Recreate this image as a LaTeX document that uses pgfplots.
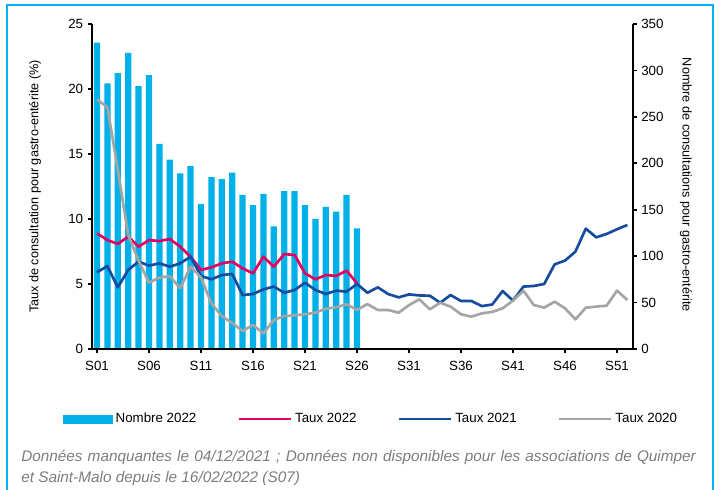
\documentclass[border=0pt]{standalone}
\usepackage{pgfplots}
\pgfplotsset{compat=1.18}
\usepackage{fontspec}
\setmainfont{Liberation Sans}

\definecolor{barc}{RGB}{0,176,232}
\definecolor{pinkc}{RGB}{228,0,95}
\definecolor{bluec}{RGB}{22,76,160}
\definecolor{greyc}{RGB}{165,165,165}
\definecolor{framec}{RGB}{0,176,240}
\definecolor{notec}{RGB}{125,125,125}

\begin{document}
\begin{tikzpicture}[x=0.75pt,y=0.75pt]
\useasboundingbox (0,0) rectangle (720,489);
\draw[framec, line width=1.5pt] (7,-2) -- (7,484) -- (713,484) -- (713,-2);

% nombre de consultations (axe de droite)
\begin{axis}[
    at={(68.85pt,105pt)}, anchor=south west,
    scale only axis, width=405.6pt, height=243.75pt,
    xmin=0.5, xmax=52.5, ymin=0, ymax=350,
    hide x axis,
    axis y line*=right,
    axis line style={-, line width=1.5pt},
    ytick={0,50,...,350},
    tick align=outside, major tick length=3pt,
    every tick/.style={black, line width=1.2pt},
    tick label style={font=\fontsize{10}{11}\selectfont},
    /pgf/number format/assume math mode=true,
]
\addplot[ybar, bar width=4.7pt, fill=barc, draw=none] coordinates {
(1,330) (2,286) (3,297) (4,319) (5,283) (6,295) (7,221) (8,204) (9,189) (10,197)
(11,156) (12,185) (13,183) (14,190) (15,166) (16,155) (17,167) (18,132) (19,170) (20,170)
(21,155) (22,140) (23,153) (24,148) (25,166) (26,130)};
\end{axis}

% taux (axe de gauche)
\begin{axis}[
    at={(68.85pt,105pt)}, anchor=south west,
    scale only axis, width=405.6pt, height=243.75pt,
    xmin=0.5, xmax=52.5, ymin=0, ymax=25,
    axis x line*=bottom, axis y line*=left,
    axis line style={-, line width=1.5pt},
    xtick={1,6,...,51},
    xticklabels={S01,S06,S11,S16,S21,S26,S31,S36,S41,S46,S51},
    ytick={0,5,...,25},
    tick align=outside, major tick length=3pt,
    every tick/.style={black, line width=1.2pt},
    tick label style={font=\fontsize{10}{11}\selectfont},
    xticklabel style={yshift=-2.5pt},
    /pgf/number format/assume math mode=true,
    legend columns=4,
    legend style={at={(0.517,-0.215)}, anchor=center, draw=none, fill=none,
        font=\fontsize{10}{11}\selectfont,
        /tikz/every even column/.append style={column sep=29pt}},
    legend image code/.code={\draw[#1] (0pt,0pt) -- (39pt,0pt);},
]
\addlegendimage{legend image code/.code={\fill[barc] (0pt,-3pt) rectangle (37pt,3pt);}}
\addlegendentry{Nombre 2022}
\addplot[pinkc, line width=2pt, line join=round] coordinates {
(1,8.9) (2,8.38) (3,8.08) (4,8.64) (5,7.87) (6,8.38) (7,8.3) (8,8.46) (9,7.87) (10,7.1)
(11,6.08) (12,6.28) (13,6.59) (14,6.72) (15,6.2) (16,5.82) (17,7.1) (18,6.33) (19,7.3) (20,7.23)
(21,5.82) (22,5.36) (23,5.69) (24,5.62) (25,6.03) (26,5.05)};
\addlegendentry{Taux 2022}
\addplot[bluec, line width=2pt, line join=round] coordinates {
(1,5.9) (2,6.38) (3,4.74) (4,6.08) (5,6.72) (6,6.41) (7,6.59) (8,6.33) (9,6.59) (10,7.1)
(11,5.62) (12,5.36) (13,5.69) (14,5.77) (15,4.15) (16,4.23) (17,4.59) (18,4.8) (19,4.33) (20,4.54)
(21,5.1) (22,4.54) (23,4.23) (24,4.49) (25,4.41) (26,5.0) (27,4.33) (28,4.74) (29,4.23) (30,3.97)
(31,4.2) (32,4.12) (33,4.1) (34,3.56) (35,4.15) (36,3.69) (37,3.69) (38,3.3) (39,3.42) (40,4.46)
(41,3.72) (42,4.8) (43,4.85) (44,5.0) (45,6.51) (46,6.8) (47,7.49) (48,9.26) (49,8.59) (50,8.85)
(51,9.21) (52,9.54)};
\addlegendentry{Taux 2021}
\addplot[greyc, line width=2pt, line join=round] coordinates {
(1,19.2) (2,18.6) (3,13.8) (4,8.77) (5,6.8) (6,5.1) (7,5.5) (8,5.6) (9,4.67) (10,6.33)
(11,5.5) (12,3.5) (13,2.54) (14,2.0) (15,1.38) (16,1.85) (17,1.2) (18,2.23) (19,2.54) (20,2.59)
(21,2.67) (22,2.79) (23,3.1) (24,3.21) (25,3.44) (26,3.0) (27,3.46) (28,3.0) (29,3.0) (30,2.79)
(31,3.38) (32,3.82) (33,3.05) (34,3.56) (35,3.26) (36,2.67) (37,2.49) (38,2.74) (39,2.85) (40,3.13)
(41,3.72) (42,4.49) (43,3.38) (44,3.18) (45,3.64) (46,3.13) (47,2.28) (48,3.18) (49,3.26) (50,3.33)
(51,4.49) (52,3.77)};
\addlegendentry{Taux 2020}
\end{axis}

\node[rotate=90, font=\fontsize{9.5}{11}\selectfont] at (35,302.5) {Taux de consultation pour gastro-entérite (\%)};
\node[rotate=-90, font=\fontsize{9.5}{11}\selectfont] at (686,304) {Nombre de consultations pour gastro-entérite};

\node[anchor=west, inner sep=0pt, font=\fontsize{11.5}{13}\selectfont\itshape, text=notec] at (21,32)
  {\makebox[506pt][s]{Données manquantes le 04/12/2021 ; Données non disponibles pour les associations de Quimper}};
\node[anchor=west, inner sep=0pt, font=\fontsize{11.5}{13}\selectfont\itshape, text=notec] at (21,10)
  {et Saint-Malo depuis le 16/02/2022 (S07)};
\end{tikzpicture}
\end{document}
